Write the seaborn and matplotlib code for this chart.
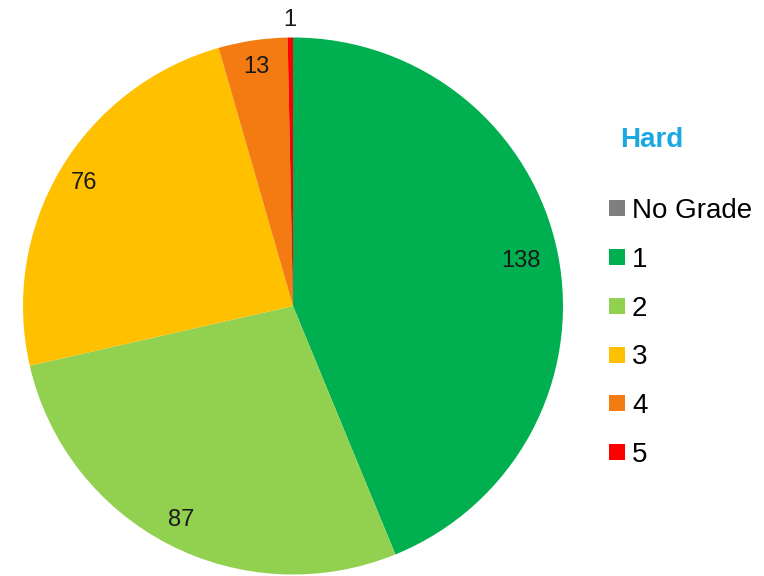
import matplotlib
matplotlib.use("Agg")
import matplotlib.pyplot as plt
from matplotlib.lines import Line2D
import numpy as np
import seaborn as sns

# Grade counts for the "Hard" group
grades = ["No Grade", "1", "2", "3", "4", "5"]
counts = [0, 138, 87, 76, 13, 1]
grade_colors = ["#7F7F7F", "#00B050", "#92D050", "#FFC000", "#F47A12", "#FF0000"]
group_title = "Hard"

# radial position of each value label (fraction of the pie radius)
label_radius = [0.9, 0.86, 0.9, 0.9, 0.9, 1.067]

sns.set_theme(style="white")
plt.rcParams["font.family"] = ["Liberation Sans", "DejaVu Sans"]

palette = sns.color_palette(grade_colors)

fig = plt.figure(figsize=(7.64, 5.76), dpi=100)
fig.patch.set_facecolor("white")

# pie area: 540 x 537 px, centred at (293, 306)
ax = fig.add_axes([23 / 764, 1.5 / 576, 540 / 764, 537 / 576])
wedges, _ = ax.pie(
    counts,
    colors=palette,
    startangle=90,
    counterclock=False,
    radius=1,
    wedgeprops=dict(linewidth=0),
)
ax.set_xlim(-1, 1)
ax.set_ylim(-1, 1)
ax.set_aspect("auto")
ax.axis("off")

# value labels, placed along each wedge's mid angle
for w, val, r in zip(wedges, counts, label_radius):
    if val == 0:
        continue
    mid = np.deg2rad((w.theta1 + w.theta2) / 2)
    ax.text(r * np.cos(mid), r * np.sin(mid), str(val),
            ha="center", va="center", fontsize=17, color="#1a1a1a",
            clip_on=False)

# legend with square swatches
handles = [Line2D([0], [0], marker="s", linestyle="none", markersize=11.5,
                  markerfacecolor=c, markeredgewidth=0) for c in palette]
fig.legend(handles, grades, loc="upper left",
           bbox_to_anchor=(608.7 / 764, 1 - 198 / 576),
           frameon=False, fontsize=20, handlelength=0.6,
           handletextpad=0.24, labelspacing=0.82,
           borderpad=0, borderaxespad=0, labelcolor="black")

fig.text(652 / 764, 1 - 140 / 576, group_title, ha="center", va="center",
         fontsize=20, fontweight="bold", color="#1BA8E0")

fig.savefig("out.png", dpi=100, facecolor="white")
